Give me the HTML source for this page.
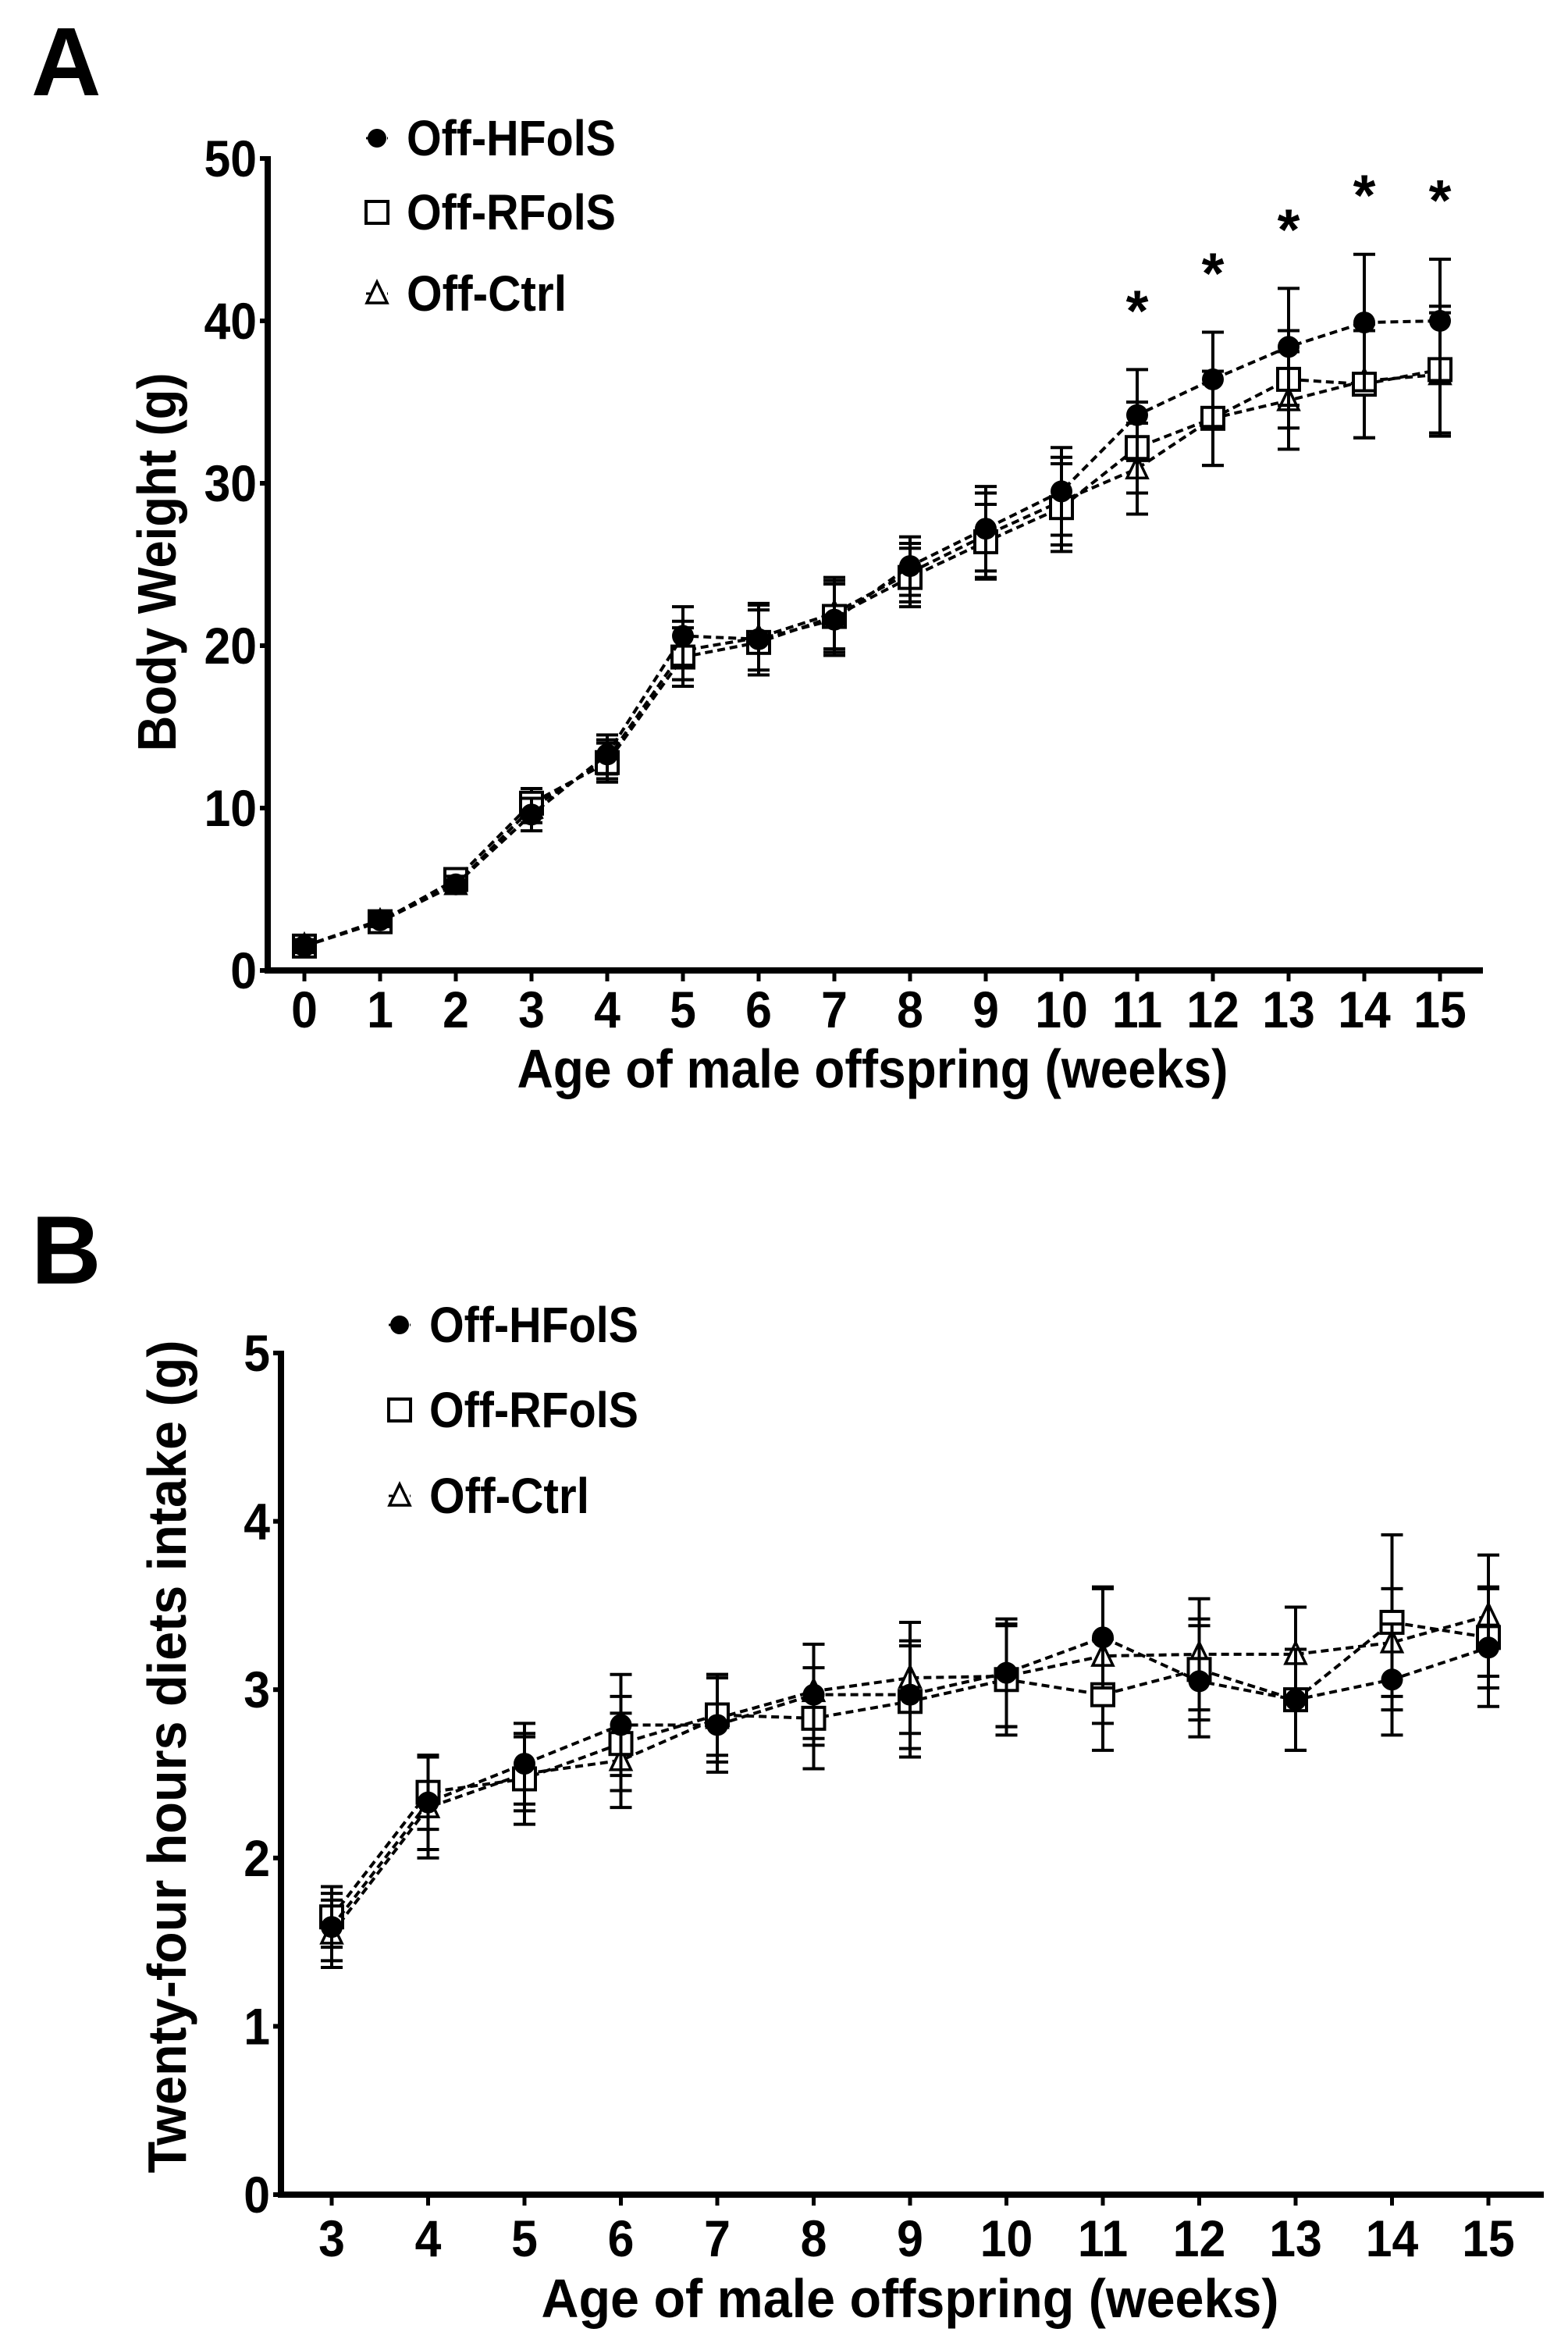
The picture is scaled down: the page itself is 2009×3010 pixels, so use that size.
<!DOCTYPE html>
<html><head><meta charset="utf-8"><style>
html,body{margin:0;padding:0;background:#fff}
svg{display:block}
text{font-family:"Liberation Sans Narrow","Liberation Sans",sans-serif;font-weight:bold;fill:#000}
</style></head><body>
<svg id="fig" width="2009" height="3010" viewBox="0 0 2009 3010" xmlns="http://www.w3.org/2000/svg">
<rect width="2009" height="3010" fill="#fff"/>
</svg>
<script>
// Panel A data
const weeksA = [0,1,2,3,4,5,6,7,8,9,10,11,12,13,14,15];
const hfolsA = [1.5,3.1,5.3,9.6,13.3,20.6,20.4,21.6,24.9,27.2,29.5,34.2,36.4,38.4,39.9,40.0];
const rfolsA = [1.5,3.0,5.6,10.3,12.8,19.3,20.2,21.8,24.2,26.4,28.5,32.2,34.0,36.4,36.1,37.0];
const ctrlA  = [1.5,3.0,5.3,10.0,13.0,19.7,20.5,22.0,24.5,26.8,28.9,30.9,34.0,35.1,36.3,36.7];
const hfolsAErr = [0.4,0.4,0.5,1.0,1.2,1.8,2.2,2.2,1.8,2.6,2.7,2.8,2.9,3.6,4.2,3.8];
const rfolsAErr = [0.4,0.4,0.5,0.9,1.2,1.8,2.0,2.2,1.8,2.3,2.7,2.8,2.9,3.0,3.3,3.9];
const ctrlAErr  = [0.4,0.4,0.5,0.9,1.2,1.8,2.0,2.2,1.8,2.6,2.7,2.8,2.9,3.0,3.5,3.8];
const starWeeksA = [11,12,13,14,15];
const yTicksA = [0,10,20,30,40,50];
// Panel B data
const weeksB = [3,4,5,6,7,8,9,10,11,12,13,14,15];
const hfolsB = [1.59,2.33,2.56,2.79,2.79,2.97,2.97,3.10,3.31,3.05,2.94,3.06,3.25];
const rfolsB = [1.65,2.39,2.47,2.68,2.85,2.83,2.93,3.06,2.97,3.12,2.94,3.40,3.31];
const ctrlB  = [1.55,2.30,2.50,2.58,2.83,2.99,3.07,3.08,3.20,3.21,3.21,3.28,3.44];
const hfolsBErr = [0.2,0.28,0.24,0.3,0.28,0.3,0.32,0.32,0.3,0.33,0.3,0.33,0.35];
const rfolsBErr = [0.18,0.22,0.27,0.28,0.24,0.3,0.33,0.33,0.33,0.3,0.3,0.52,0.3];
const ctrlBErr  = [0.2,0.3,0.22,0.28,0.26,0.28,0.33,0.3,0.4,0.33,0.28,0.32,0.36];
const yTicksB = [0,1,2,3,4,5];

const NS = "http://www.w3.org/2000/svg";
const svg = document.getElementById('fig');
function mk(tag, attrs, parent){
  const e = document.createElementNS(NS, tag);
  for (const k in attrs) e.setAttribute(k, attrs[k]);
  (parent||svg).appendChild(e);
  return e;
}
function txt(str, x, y, size, anchor, sx, parent, rot, len){
  const a = {'font-size':size, 'text-anchor':anchor,
    transform:'translate('+x+','+y+')'+(rot?' rotate('+rot+')':'')+' scale('+sx+',1)'};
  if (len) { a.textLength = len; a.lengthAdjust = 'spacingAndGlyphs'; }
  const t = mk('text', a, parent);
  t.textContent = str;
  return t;
}
function marker(kind, x, y, g){
  let m;
  if (kind==='circle') m = mk('circle',{cx:x,cy:y,r:14,fill:'#000'},g);
  else if (kind==='square') m = mk('rect',{x:x-14,y:y-14,width:28,height:28,fill:'#fff',stroke:'#000','stroke-width':4},g);
  else m = mk('polygon',{points:(x)+','+(y-15)+' '+(x-13)+','+(y+12)+' '+(x+13)+','+(y+12),fill:'#fff',stroke:'#000','stroke-width':3.5},g);
  return m;
}

function panel(cfg){
  const g = mk('g',{});
  
  
  const X = v => cfg.x0 + (v - cfg.xmin) * (cfg.x1 - cfg.x0) / (cfg.xmax - cfg.xmin);
  const Y = v => cfg.y0 + (v - cfg.ymin) * (cfg.y1 - cfg.y0) / (cfg.ymax - cfg.ymin);
  const L = txt(cfg.letter, cfg.letterX, cfg.letterY, 124, 'start', 1.0, g);
  
  
  const ya = mk('line',{x1:cfg.axX,y1:Y(cfg.ymax)-3,x2:cfg.axX,y2:Y(cfg.ymin)+4,stroke:'#000','stroke-width':8},g);
  
  
  const xa = mk('line',{x1:cfg.axX-4,y1:Y(cfg.ymin),x2:cfg.axEnd,y2:Y(cfg.ymin),stroke:'#000','stroke-width':8},g);
  
  
  cfg.yTicks.forEach(v=>{
    mk('line',{x1:cfg.axX-10,y1:Y(v),x2:cfg.axX,y2:Y(v),stroke:'#000','stroke-width':6},g);
    const t = txt(String(v), cfg.axX-14, Y(v)+23, 66, 'end', 0.92, g);
    
    
  });
  cfg.weeks.forEach(v=>{
    mk('line',{x1:X(v),y1:Y(cfg.ymin),x2:X(v),y2:Y(cfg.ymin)+14,stroke:'#000','stroke-width':5},g);
    const t = txt(String(v), X(v), cfg.xTickY, 66, 'middle', 0.92, g);
    
    
  });
  const xl = txt('Age of male offspring (weeks)', cfg.xLabelX - cfg.xLabelLen/2, cfg.xLabelY, 70, 'start', 1, g, 0, cfg.xLabelLen);
  
  
  const yl = mk('text', {'font-size':70, 'text-anchor':'start', textLength:cfg.yLabelLen, lengthAdjust:'spacingAndGlyphs',
    style:'font-family:"Liberation Sans",sans-serif',
    transform:'translate('+cfg.yLabelX+','+(cfg.yLabelY+cfg.yLabelLen/2)+') rotate(-90)'}, g);
  yl.textContent = cfg.yTitle;
  
  
  const series = [
    {n:'off-ctrl', k:'tri', v:cfg.ctrl, e:cfg.ctrlE},
    {n:'off-rfols', k:'square', v:cfg.rfols, e:cfg.rfolsE},
    {n:'off-hfols', k:'circle', v:cfg.hfols, e:cfg.hfolsE}
  ];
  series.forEach(s=>{
    const sg = mk('g',{},g);
    
    
    s.v.forEach((v,i)=>{
      const x = X(cfg.weeks[i]);
      mk('line',{x1:x,y1:Y(v-s.e[i]),x2:x,y2:Y(v+s.e[i]),stroke:'#000','stroke-width':4},sg);
      mk('line',{x1:x-14,y1:Y(v+s.e[i]),x2:x+14,y2:Y(v+s.e[i]),stroke:'#000','stroke-width':4},sg);
      mk('line',{x1:x-14,y1:Y(v-s.e[i]),x2:x+14,y2:Y(v-s.e[i]),stroke:'#000','stroke-width':4},sg);
    });
    const pts = s.v.map((v,i)=>X(cfg.weeks[i])+','+Y(v)).join(' ');
    const pl = mk('polyline',{points:pts,fill:'none',stroke:'#000','stroke-width':4,'stroke-dasharray':'10,6'},sg);
    
    
    s.v.forEach((v,i)=>{
      const m = marker(s.k, X(cfg.weeks[i]), Y(v), sg);
      
      
    });
  });
  const lg = mk('g',{},g);
  
  
  const leg = [['circle','Off-HFolS',268],['square','Off-RFolS',268],['tri','Off-Ctrl',205]];
  leg.forEach((l,i)=>{
    const eg = mk('g',{},lg);
    
    
    const y = cfg.legY[i];
    mk('line',{x1:cfg.legX-14,y1:y,x2:cfg.legX+14,y2:y,stroke:'#000','stroke-width':3,'stroke-dasharray':'5,4'},eg);
    const m = marker(l[0], cfg.legX, y, eg);
    if (l[0]==='circle') m.setAttribute('r',12);
    txt(l[1], cfg.legX+38, y+22, 64, 'start', 1, eg, 0, l[2]);
  });
  return {g, X, Y};
}

const A = panel({name:'panel-a-body-weight', letter:'A', letterX:40, letterY:122,
  x0:390, x1:1845, xmin:0, xmax:15, y0:1243, y1:203, ymin:0, ymax:50,
  axX:343, axEnd:1900, yTicks:yTicksA, weeks:weeksA, xTickY:1316,
  xLabelX:1118, xLabelY:1393, xLabelLen:911, yTitle:'Body Weight (g)', yLabelX:225, yLabelY:720, yLabelLen:485,
  hfols:hfolsA, rfols:rfolsA, ctrl:ctrlA, hfolsE:hfolsAErr, rfolsE:rfolsAErr, ctrlE:ctrlAErr,
  legX:483, legY:[177,272,376]});
starWeeksA.forEach((w,i)=>{
  const yv = Math.max(hfolsA[weeksA.indexOf(w)]+hfolsAErr[weeksA.indexOf(w)], 0);
  const t = txt('*', A.X(w), A.Y(yv)-50, 74, 'middle', 1, A.g);
  
  
});

panel({name:'panel-b-diet-intake', letter:'B', letterX:40, letterY:1644,
  x0:425, x1:1907, xmin:3, xmax:15, y0:2811, y1:1733, ymin:0, ymax:5,
  axX:360, axEnd:1978, yTicks:yTicksB, weeks:weeksB, xTickY:2890,
  xLabelX:1166, xLabelY:2968, xLabelLen:945, yTitle:'Twenty-four hours diets intake (g)', yLabelX:238, yLabelY:2250, yLabelLen:1067,
  hfols:hfolsB, rfols:rfolsB, ctrl:ctrlB, hfolsE:hfolsBErr, rfolsE:rfolsBErr, ctrlE:ctrlBErr,
  legX:512, legY:[1697,1806,1916]});
</script>
</body></html>
